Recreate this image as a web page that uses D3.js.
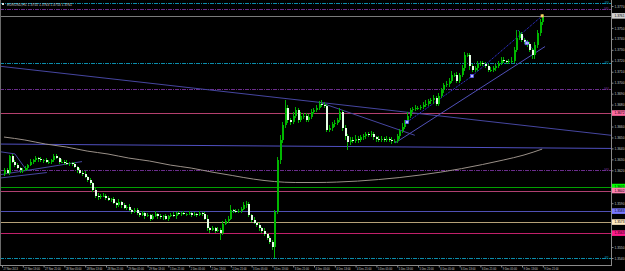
<!DOCTYPE html>
<html>
<head>
<meta charset="utf-8">
<script src="https://cdn.jsdelivr.net/npm/d3@7"></script>
<style>
  html, body { margin: 0; padding: 0; background: #000; overflow: hidden; }
  svg { display: block; }
  text { font-family: "Liberation Sans", Arial, sans-serif; }
</style>
</head>
<body>
<script>
// EURUSD H1 candles
const symbol = "EURUSD,H1";
const firstOpen = 1.3617;
const closes = [
  1.3620,1.3618,1.3633,1.3628,1.3625,1.3622,1.3620,1.3620,1.3622,1.3625,
  1.3628,1.3629,1.3631,1.3630,1.3629,1.3629,1.3628,1.3628,1.3629,1.3633,
  1.3631,1.3628,1.3628,1.3627,1.3626,1.3627,1.3626,1.3623,1.3620,1.3618,
  1.3617,1.3614,1.3611,1.3608,1.3602,1.3597,1.3596,1.3597,
  1.3597,1.3595,1.3593,1.3594,1.3590,1.3588,1.3591,1.3588,1.3586,1.3587,
  1.3584,1.3582,1.3584,1.3581,1.3579,1.3581,1.3578,1.3579,1.3576,1.3578,
  1.3580,1.3578,1.3577,1.3578,1.3576,1.3578,1.3579,1.3578,1.3581,1.3580,
  1.3581,1.3580,1.3580,1.3581,1.3579,1.3580,1.3579,1.3581,1.3580,1.3576,
  1.3567,1.3566,1.3567,1.3565,1.3566,1.3563,1.3571,1.3574,1.3576,1.3584,
  1.3583,1.3582,1.3583,1.3585,1.3588,1.3589,1.3579,1.3575,1.3572,1.3570,
  1.3567,1.3565,1.3562,1.3558,1.3555,1.3550,1.3582,1.3629,1.3648,1.3661,
  1.3677,1.3666,1.3664,1.3670,1.3675,1.3666,1.3670,1.3670,1.3666,1.3669,
  1.3673,1.3675,1.3677,1.3681,1.3680,1.3679,1.3657,1.3659,1.3662,1.3663,
  1.3666,1.3673,1.3659,1.3651,1.3646,1.3648,1.3647,1.3649,1.3648,1.3650,
  1.3651,1.3653,1.3652,1.3653,1.3650,1.3649,1.3648,1.3649,1.3648,1.3649,
  1.3648,1.3647,1.3647,1.3651,1.3656,1.3660,1.3664,1.3670,1.3675,1.3676,
  1.3677,1.3677,1.3678,1.3680,1.3681,1.3683,1.3684,1.3686,1.3681,1.3688,
  1.3693,1.3698,1.3699,1.3702,1.3707,1.3707,1.3702,1.3707,1.3713,1.3725,
  1.3725,1.3715,1.3712,1.3713,1.3717,1.3718,1.3717,1.3715,1.3712,1.3712,
  1.3713,1.3715,1.3718,1.3721,1.3720,1.3719,1.3720,1.3720,1.3730,1.3741,
  1.3744,1.3739,1.3737,1.3735,1.3730,1.3725,1.3734,1.3745,1.3755,1.3761
];
// wick lengths in pips above / below the body
const hiWick = [
  2,2,1,2,1,2,1,2,2,1, 2,1,2,1,2,1,2,1,1,2, 2,1,2,1,2,1,1,2,1,2,
  1,2,1,2,1,2,2,1,2,1, 2,1,2,1,3,1,2,1,2,1, 2,2,1,2,1,2,1,2,3,1,
  2,1,2,1,2,3,1,2,1,2, 1,2,1,2,1,2,1,2,3,1, 2,1,2,1,3,2,2,4,1,2,
  2,2,3,3,2,1,2,1,2,1, 2,1,2,1,2,3,4,3,7,3, 2,3,3,2,3,2,2,2,3,2,
  3,2,3,2,2,2,2,3,2,4, 2,2,2,2,2,3,2,2,2,2, 2,3,2,1,2,2,1,2,1,2,
  2,2,2,3,2,3,2,2,3,2, 2,2,3,2,2,3,2,3,2,2, 3,2,4,2,3,2,3,3,2,2,
  2,2,3,2,2,2,2,2,2,2, 2,2,2,1,2,3,3,7,3,2, 2,2,2,2,3,3,3,2
];
const loWick = [
  2,1,2,1,2,1,2,2,1,2, 1,2,1,2,1,2,1,2,2,1, 1,2,1,2,1,2,2,1,2,1,
  2,1,2,1,2,2,3,2,1,2, 1,2,1,2,1,2,1,2,1,2, 1,2,2,1,2,1,2,1,1,2,
  1,2,1,2,1,1,2,1,2,1, 2,1,2,1,2,1,2,1,2,3, 1,2,1,7,2,1,2,1,2,1,
  1,2,1,2,2,2,1,2,2,2, 2,2,2,3,10,2,3,3,2,3, 3,2,2,3,2,3,2,2,2,2,
  2,2,2,2,2,2,3,2,2,2, 3,3,7,3,2,2,3,2,2,2, 2,2,2,3,2,2,2,2,2,3,
  2,2,2,2,2,2,2,2,2,2, 2,2,2,2,2,3,2,2,2,2, 2,3,2,2,2,2,2,2,2,3,
  2,2,2,2,2,2,2,2,2,2, 2,2,2,2,2,2,2,2,2,2, 2,2,2,3,3,2,2,2
];

// moving average, sampled every 8 bars
const maBars = [0,8,16,24,32,40,48,56,64,72,80,88,96,104,112,120,128,136,144,152,160,168,176,184,192,200,207];
const maValues = [1.36504,1.36477,1.3644,1.36413,1.36376,1.36349,1.36312,1.36285,1.36248,1.36221,
  1.36184,1.36152,1.3612,1.36098,1.36089,1.36089,1.36093,1.36102,1.36116,1.36134,
  1.36157,1.36184,1.36216,1.36253,1.36294,1.3634,1.36394];

// horizontal price levels with axis boxes
const levels = [1.36723, 1.36052, 1.36016, 1.35828, 1.35728, 1.35627];
// pivot lines
const pivotNames = ["R3", "M5", "R2", "M4", "M3", "R1"];
const pivotLevels = [1.37723, 1.37673, 1.37180, 1.36942, 1.36203, 1.35399];

// trendlines as [bar, price] points
const trendLines = [
  [[-1.54, 1.3715], [233.5, 1.3652]],
  [[-1.54, 1.3644], [233.5, 1.3640]],
  [[121.5, 1.3682], [158, 1.3652]],
  [[150.4, 1.3645], [208.1, 1.3733]],
  [[-1.54, 1.3637], [4.2, 1.3635], [8.1, 1.3622]],
  [[-1.54, 1.3616], [30, 1.3628]],
  [[-1.54, 1.3613], [16.5, 1.3618]]
];
const zigzag = [[155, 1.3664], [180, 1.3706], [207, 1.3761]];
const zigzag2 = [[197.7, 1.3748], [204.2, 1.3728]];
const markers = [[155, 1.3664], [180, 1.3706], [201, 1.3736]];

const timeLabels = ["27 Nov 2013","27 Nov 13:00","27 Nov 21:00","28 Nov 05:00","28 Nov 13:00","28 Nov 21:00",
  "29 Nov 05:00","29 Nov 13:00","1 Dec 21:00","2 Dec 05:00","2 Dec 13:00","2 Dec 21:00","3 Dec 05:00",
  "3 Dec 13:00","3 Dec 21:00","4 Dec 05:00","4 Dec 13:00","4 Dec 21:00","5 Dec 05:00","5 Dec 13:00",
  "5 Dec 21:00","6 Dec 05:00","6 Dec 13:00","6 Dec 21:00","9 Dec 05:00","9 Dec 13:00","9 Dec 21:00"];

// styles
const levelStyle = [
  { line: "#b4406e", box: "#ff6aa0" },
  { line: "#00a000", box: "#00ff00" },
  { line: "#b04070", box: "#ff80b0" },
  { line: "#5050b4", box: "#7878ff" },
  { line: "#b4a078", box: "#ffe8c0" },
  { line: "#c0206a", box: "#ff1a8c" }
];
const pivotColor = ["#0a8cab", "#6a2c8c", "#0a8cab", "#6a2c8c", "#6a2c8c", "#0a8cab"];
const trendColor = ["#4646a0", "#5050c0", "#4646a0", "#5050b8", "#4646a0", "#4646a0", "#4646a0"];

const W = 625, H = 271, plotR = 611, plotB = 265;
const fmt = d3.format(".4f");

const svg = d3.select("body").append("svg").attr("width", W).attr("height", H);
svg.append("rect").attr("width", W).attr("height", H).attr("fill", "#000");
svg.append("defs").append("clipPath").attr("id", "clip")
  .append("rect").attr("width", plotR).attr("height", plotB);

const x = d3.scaleLinear().domain([0, 207]).range([4, 542.2]);
const y = d3.scaleLinear().domain([1.3540, 1.3770]).range([258, 6]);

const bars = closes.map((c, i) => {
  const o = i ? closes[i - 1] : firstOpen;
  return { i, o, c, h: Math.max(o, c) + hiWick[i] * 1e-4, l: Math.min(o, c) - loWick[i] * 1e-4 };
});
const last = bars[bars.length - 1];

const plot = svg.append("g").attr("clip-path", "url(#clip)");

// pivot lines
pivotLevels.forEach((p, k) => {
  plot.append("line")
    .attr("x1", 0).attr("x2", plotR)
    .attr("y1", Math.round(y(p)) + 0.5).attr("y2", Math.round(y(p)) + 0.5)
    .attr("stroke", pivotColor[k]).attr("stroke-dasharray", "4,1,1,1");
  plot.append("text")
    .attr("x", 609).attr("y", y(p) + 1)
    .attr("text-anchor", "end").attr("font-size", 3.4)
    .attr("fill", pivotColor[k]).text(pivotNames[k]);
});

// horizontal levels
levels.forEach((p, k) => {
  plot.append("line")
    .attr("x1", 0).attr("x2", plotR)
    .attr("y1", Math.round(y(p)) + 0.5).attr("y2", Math.round(y(p)) + 0.5)
    .attr("stroke", levelStyle[k].line);
});

// bid line
plot.append("line")
  .attr("x1", 0).attr("x2", plotR)
  .attr("y1", Math.round(y(last.c)) + 0.5).attr("y2", Math.round(y(last.c)) + 0.5)
  .attr("stroke", "#7a7a7a");

// trendlines
const tl = d3.line().x(d => x(d[0])).y(d => y(d[1]));
trendLines.forEach((pts, k) => {
  plot.append("path").attr("d", tl(pts)).attr("fill", "none")
    .attr("stroke", trendColor[k]).attr("stroke-width", 1);
});
plot.append("path").attr("d", tl(zigzag)).attr("fill", "none")
  .attr("stroke", "#3c3cff").attr("stroke-dasharray", "1,1");
plot.append("path").attr("d", tl(zigzag2)).attr("fill", "none")
  .attr("stroke", "#3c3cff").attr("stroke-dasharray", "1,1");

// moving average
const maLine = d3.line().x((d, k) => x(maBars[k])).y(d => y(d)).curve(d3.curveMonotoneX);
plot.append("path").attr("d", maLine(maValues)).attr("fill", "none")
  .attr("stroke", "#9a9088").attr("stroke-width", 1);

// candles
const cg = plot.append("g").attr("shape-rendering", "crispEdges");
cg.selectAll("line").data(bars).join("line")
  .attr("x1", d => Math.round(x(d.i)) + 0.5).attr("x2", d => Math.round(x(d.i)) + 0.5)
  .attr("y1", d => y(d.h)).attr("y2", d => y(d.l))
  .attr("stroke", "#00b000");
cg.selectAll("rect").data(bars).join("rect")
  .attr("x", d => Math.round(x(d.i)))
  .attr("width", 2)
  .attr("y", d => y(Math.max(d.o, d.c)))
  .attr("height", d => Math.max(1, y(Math.min(d.o, d.c)) - y(Math.max(d.o, d.c))))
  .attr("fill", d => d.c >= d.o ? "#00b800" : "#e6ffe6");

// markers
plot.selectAll(".mk").data(markers).join("rect").attr("class", "mk")
  .attr("x", d => x(d[0]) - 1.5).attr("y", d => y(d[1]) - 1.5)
  .attr("width", 3).attr("height", 3)
  .attr("fill", "#c0c0ff").attr("stroke", "#5050ff").attr("stroke-width", 0.7);
plot.append("rect")
  .attr("x", x(last.i) - 1.5).attr("y", y(last.c) - 1.5)
  .attr("width", 3).attr("height", 3).attr("fill", "#ffcc66");

// frame
svg.append("line").attr("x1", plotR + 0.5).attr("x2", plotR + 0.5).attr("y1", 0).attr("y2", plotB + 1)
  .attr("stroke", "#8a8a8a");
svg.append("line").attr("x1", 0).attr("x2", plotR).attr("y1", plotB + 0.5).attr("y2", plotB + 0.5)
  .attr("stroke", "#8a8a8a");
svg.append("line").attr("x1", 0.5).attr("x2", 0.5).attr("y1", 0).attr("y2", plotB)
  .attr("stroke", "#6a6a6a");

// right price axis
const boxes = levels.concat([last.c]);
const yTicks = y.ticks(24).filter(t => boxes.every(b => Math.abs(y(t) - y(b)) > 5.5));
const yAxis = d3.axisRight(y).tickValues(yTicks).tickFormat(fmt).tickSize(2).tickPadding(1);
const ya = svg.append("g").attr("transform", `translate(${plotR + 0.5},0)`).call(yAxis);
ya.select(".domain").remove();
ya.selectAll(".tick line").attr("stroke", "#8a8a8a");
ya.selectAll(".tick text").attr("font-size", 3.4).attr("fill", "#c8c8c8")
  .attr("font-family", "Liberation Sans, Arial, sans-serif")
  .attr("textLength", 10).attr("lengthAdjust", "spacingAndGlyphs");

// highlighted price boxes
const boxStyle = levelStyle.map(s => s.box).concat(["#d0d0d0"]);
boxes.forEach((p, k) => {
  svg.append("rect").attr("x", plotR + 1).attr("y", y(p) - 2.8)
    .attr("width", W - plotR - 1).attr("height", 5.6).attr("fill", boxStyle[k]);
  svg.append("text").attr("x", plotR + 3.5).attr("y", y(p) + 1.2)
    .attr("font-size", 3.4).attr("fill", "#000")
    .attr("textLength", 10).attr("lengthAdjust", "spacingAndGlyphs")
    .text(fmt(p));
});

// bottom time axis
const xAxis = d3.axisBottom(x)
  .tickValues(timeLabels.map((t, k) => 8 * k))
  .tickFormat((d, k) => timeLabels[k])
  .tickSize(2).tickPadding(0);
const xa = svg.append("g").attr("transform", `translate(-2,${plotB + 0.5})`).call(xAxis);
xa.select(".domain").remove();
xa.selectAll(".tick line").attr("stroke", "#8a8a8a");
xa.selectAll(".tick text")
  .attr("text-anchor", "start").attr("x", 1).attr("y", 2).attr("dy", "0.71em")
  .attr("font-size", 3.4).attr("fill", "#c8c8c8")
  .attr("font-family", "Liberation Sans, Arial, sans-serif")
  .attr("textLength", function () { return this.textContent.length * 1.3; })
  .attr("lengthAdjust", "spacingAndGlyphs");

// title
svg.append("rect").attr("x", 2).attr("y", 3).attr("width", 2).attr("height", 2).attr("fill", "#e0e0e0");
const title = [symbol, fmt(last.o), fmt(last.h), fmt(last.l), fmt(last.c)].join(" ");
svg.append("text").attr("x", 7).attr("y", 5.5)
  .attr("font-size", 3.6).attr("fill", "#d0d0d0")
  .attr("textLength", 65).attr("lengthAdjust", "spacingAndGlyphs")
  .text(title);
</script>
</body>
</html>
